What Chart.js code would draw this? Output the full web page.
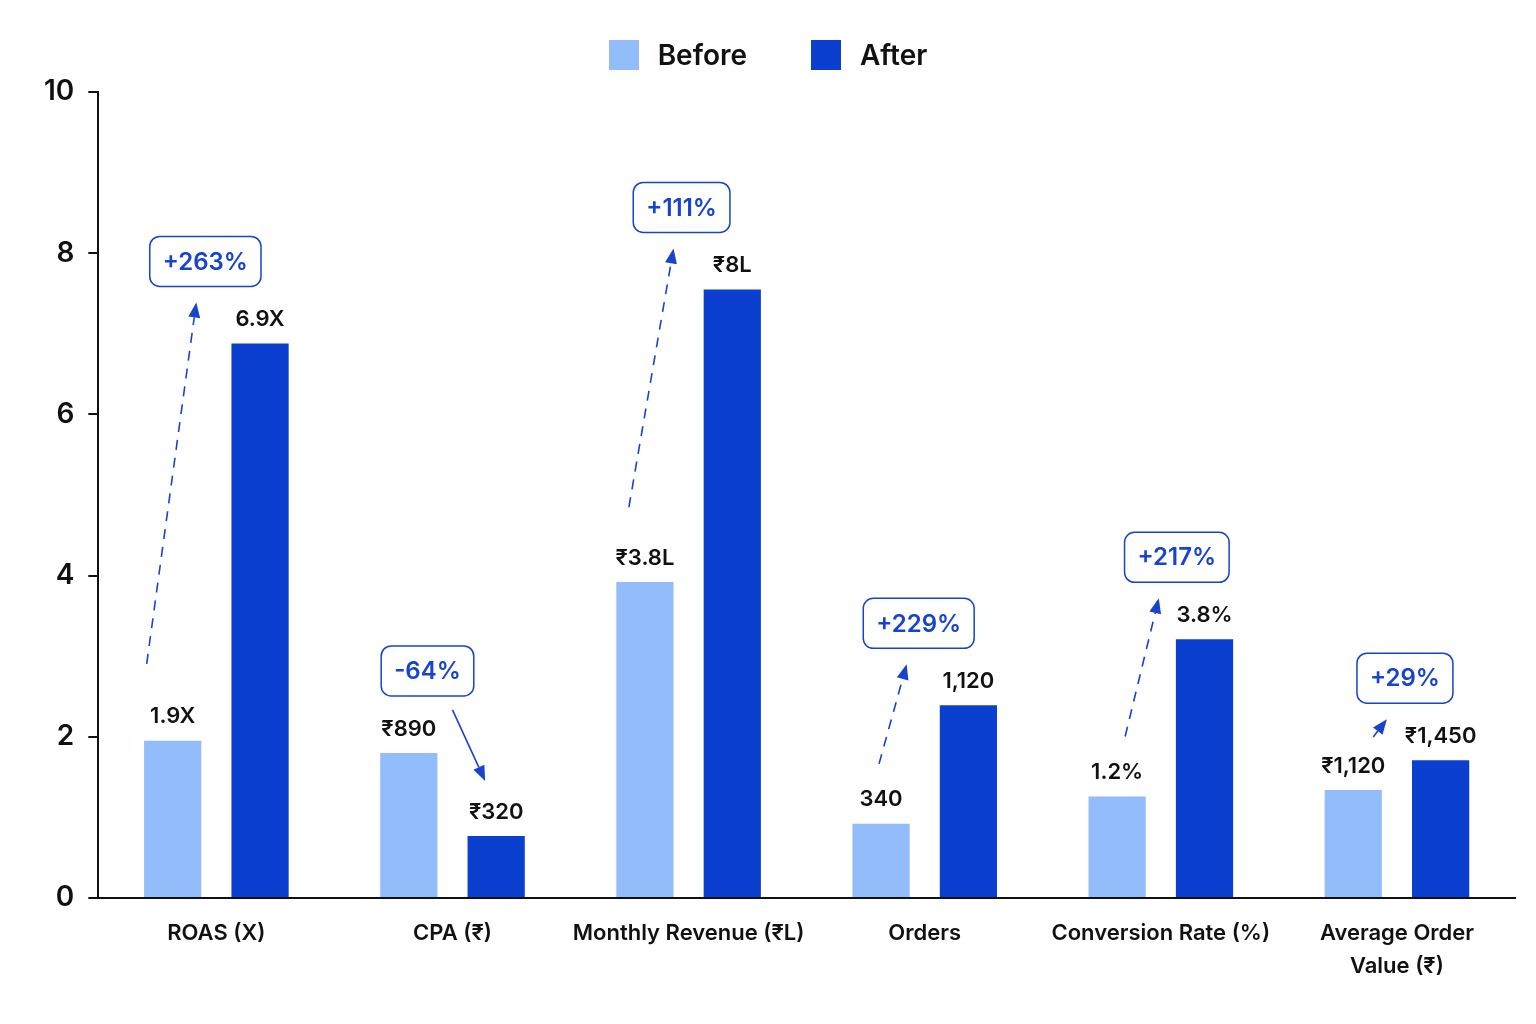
<!DOCTYPE html>
<html>
<head>
<meta charset="utf-8">
<script src="https://cdn.jsdelivr.net/npm/chart.js@4.4.1/dist/chart.umd.min.js"></script>
<style>
  html, body { margin: 0; padding: 0; background: #fff; }
  #wrap { position: relative; width: 1536px; height: 1024px; }
  #legend {
    position: absolute; top: 38px; left: 0; width: 1536px;
    display: flex; justify-content: center; gap: 64px;
    font-family: Inter, "Noto Sans", sans-serif; font-size: 28px; font-weight: 600; color: #111;
  }
  #legend span { display: flex; align-items: center; gap: 19px; }
  #legend i { display: inline-block; width: 30px; height: 30px; }
</style>
</head>
<body>
<div id="wrap">
  <div id="legend">
    <span><i style="background:#93bdfa"></i>Before</span>
    <span><i style="background:#0a3fd0"></i>After</span>
  </div>
  <canvas id="chart"></canvas>
</div>
<script>
// ---- data ----
const categories = ['ROAS (X)', 'CPA (₹)', 'Monthly Revenue (₹L)', 'Orders', 'Conversion Rate (%)', ['Average Order', 'Value (₹)']];
const beforeValues = [1.95, 1.8, 3.92, 0.92, 1.26, 1.34];
const afterValues = [6.88, 0.77, 7.55, 2.39, 3.21, 1.71];
const beforeLabels = ['1.9X', '₹890', '₹3.8L', '340', '1.2%', '₹1,120'];
const afterLabels = ['6.9X', '₹320', '₹8L', '1,120', '3.8%', '₹1,450'];
const changeLabels = ['+263%', '-64%', '+111%', '+229%', '+217%', '+29%'];
const yTicks = [0, 2, 4, 6, 8, 10];

// ---- annotation layout (px offsets, style only) ----
const boxShift = [-11, -25, -7, -6, 16, 8];
const tailOffset = [[-26, 77], [0, 0], [-16, 75], [-2, 60], [8, 60], [20, 53]];
const headShift = [-5, 0, 0, -3, 13, 5];

const FONT = 'Inter, "Noto Sans", sans-serif';
const BLUE = '#1843cf';

function drawArrow(ctx, x1, y1, x2, y2, dashed) {
    const ang = Math.atan2(y2 - y1, x2 - x1);
    const len = 15, half = 6;
    const bx = x2 - Math.cos(ang) * len, by = y2 - Math.sin(ang) * len;
    ctx.save();
    ctx.strokeStyle = BLUE;
    ctx.fillStyle = BLUE;
    ctx.lineWidth = 1.6;
    ctx.setLineDash(dashed ? [10, 8] : []);
    ctx.beginPath();
    ctx.moveTo(x1, y1);
    ctx.lineTo(bx, by);
    ctx.stroke();
    ctx.setLineDash([]);
    ctx.beginPath();
    ctx.moveTo(x2, y2);
    ctx.lineTo(bx + Math.sin(ang) * half, by - Math.cos(ang) * half);
    ctx.lineTo(bx - Math.sin(ang) * half, by + Math.cos(ang) * half);
    ctx.closePath();
    ctx.fill();
    ctx.restore();
}

// labels above bars + change boxes + arrows
const annotations = {
    id: 'annotations',
    afterDatasetsDraw(chart) {
        const ctx = chart.ctx;
        const before = chart.getDatasetMeta(0).data;
        const after = chart.getDatasetMeta(1).data;

        ctx.save();
        ctx.font = '600 22px ' + FONT;
        ctx.fillStyle = '#111';
        ctx.textAlign = 'center';
        ctx.textBaseline = 'middle';
        before.forEach((bar, i) => ctx.fillText(beforeLabels[i], bar.x, bar.y - 24));
        after.forEach((bar, i) => ctx.fillText(afterLabels[i], bar.x, bar.y - 24));
        ctx.restore();

        before.forEach((b, i) => {
            const a = after[i];
            const cx = (b.x + a.x) / 2 + boxShift[i];
            const cy = Math.min(b.y, a.y) - 82;

            ctx.save();
            ctx.font = '600 24px ' + FONT;
            const w = ctx.measureText(changeLabels[i]).width + 26;
            const h = 50;
            ctx.beginPath();
            ctx.roundRect(cx - w / 2, cy - h / 2, w, h, 10);
            ctx.fillStyle = '#fff';
            ctx.fill();
            ctx.lineWidth = 1.5;
            ctx.strokeStyle = BLUE;
            ctx.stroke();
            ctx.fillStyle = BLUE;
            ctx.textAlign = 'center';
            ctx.textBaseline = 'middle';
            ctx.fillText(changeLabels[i], cx, cy + 1);
            ctx.restore();

            if (afterValues[i] < beforeValues[i]) {
                drawArrow(ctx, cx + 25, cy + h / 2 + 14, a.x - 11, a.y - 55, false);
            } else {
                const t = tailOffset[i];
                drawArrow(ctx, b.x + t[0], b.y - t[1], b.x + b.width / 2 + headShift[i], cy + h / 2 + 16, true);
            }
        });
    }
};

new Chart(document.getElementById('chart'), {
    type: 'bar',
    data: {
        labels: categories,
        datasets: [
            { label: 'Before', data: beforeValues, backgroundColor: '#93bdfa' },
            { label: 'After', data: afterValues, backgroundColor: '#0a3fd0' }
        ]
    },
    options: {
        responsive: true,
        maintainAspectRatio: false,
        animation: false,
        categoryPercentage: 0.74,
        barPercentage: 0.655,
        layout: { padding: { left: 30, right: 21, top: 92, bottom: 30 } },
        plugins: {
            legend: { display: false },
            tooltip: { enabled: false }
        },
        scales: {
            x: {
                grid: { display: false },
                border: { display: true, color: '#111', width: 2 },
                ticks: {
                    color: '#111', padding: 11, maxRotation: 0, minRotation: 0, autoSkip: false,
                    font: { family: FONT, size: 22, weight: 600, lineHeight: 1.5 }
                }
            },
            y: {
                min: 0,
                max: 10,
                afterBuildTicks: axis => { axis.ticks = yTicks.map(v => ({ value: v })); },
                grid: { drawOnChartArea: false, drawTicks: true, tickLength: 10, color: '#111', lineWidth: 2 },
                border: { display: true, color: '#111', width: 2 },
                ticks: { color: '#111', padding: 14, font: { family: FONT, size: 28, weight: 600 } }
            }
        }
    },
    plugins: [annotations]
});
</script>
</body>
</html>
